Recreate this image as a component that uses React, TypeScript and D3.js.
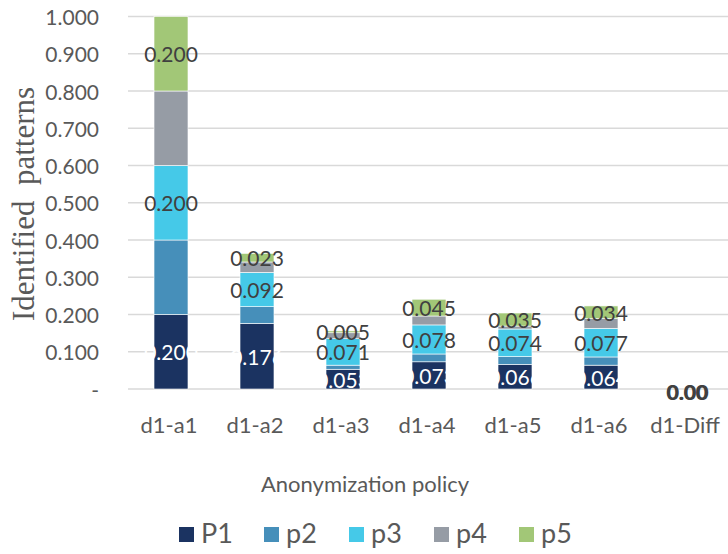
import React from "react";
import * as d3 from "d3";

const categories = ["d1-a1", "d1-a2", "d1-a3", "d1-a4", "d1-a5", "d1-a6", "d1-Diff"];
const seriesNames = ["P1", "p2", "p3", "p4", "p5"];
const p1 = [0.2, 0.176, 0.053, 0.073, 0.066, 0.064, 0];
const p2 = [0.2, 0.045, 0.011, 0.021, 0.021, 0.022, 0];
const p3 = [0.2, 0.092, 0.071, 0.078, 0.074, 0.077, 0];
const p4 = [0.2, 0.028, 0.016, 0.024, 0.008, 0.026, 0];
const p5 = [0.2, 0.023, 0.005, 0.045, 0.035, 0.034, 0];
const yTicks = [0, 0.1, 0.2, 0.3, 0.4, 0.5, 0.6, 0.7, 0.8, 0.9, 1.0];
const colors = ["#1b3361", "#468fba", "#45c9e8", "#969ca5", "#a2c777"];
const labeledSeries = [0, 2, 4];

const W = 728;
const H = 554;
const FONT = "Lato, 'Open Sans', sans-serif";

export default function App() {
  const series = [p1, p2, p3, p4, p5];
  const table = categories.map((c, i) => {
    const row: any = { cat: c };
    seriesNames.forEach((s, k) => (row[s] = series[k][i]));
    return row;
  });
  const stack = d3.stack<any>().keys(seriesNames)(table);

  const x = d3.scaleBand().domain(categories).range([128, 730]).paddingInner(0.605).paddingOuter(0.3025);
  const y = d3.scaleLinear().domain([0, 1]).range([389, 16.5]);
  const fmt = d3.format(".3f");

  return (
    <svg width={W} height={H} style={{ position: "absolute", left: 0, top: 0, background: "#fff" }}>
      {yTicks.map((t) => (
        <g key={t}>
          <line x1={128} x2={728} y1={y(t)} y2={y(t)} stroke="#d9d9d9" strokeWidth={1.5} />
          <text x={99} y={y(t)} textAnchor="end" dominantBaseline="central" fontFamily={FONT} fontSize={21} fill="#595959">
            {t === 0 ? "-" : fmt(t)}
          </text>
        </g>
      ))}
      {stack.map((layer, k) => (
        <g key={layer.key}>
          {layer.map((d, i) => {
            const h = y(d[0]) - y(d[1]);
            if (h <= 0) return null;
            return (
              <rect key={i} x={x(categories[i])!} y={y(d[1])} width={x.bandwidth()} height={h}
                fill={colors[k]} stroke="#ffffff" strokeWidth={0.6} />
            );
          })}
        </g>
      ))}
      {stack.map((layer, k) =>
        labeledSeries.includes(k)
          ? layer.map((d, i) => {
              const v = d[1] - d[0];
              if (v <= 0) return null;
              return (
                <text key={layer.key + i} x={x(categories[i])! + x.bandwidth() / 2} y={y((d[0] + d[1]) / 2)}
                  textAnchor="middle" dominantBaseline="central" fontFamily={FONT} fontSize={21}
                  fill={k === 0 ? "#ffffff" : "#404040"}>
                  {fmt(v)}
                </text>
              );
            })
          : null
      )}
      {categories.map((c, i) => {
        const total = series.reduce((s, arr) => s + arr[i], 0);
        if (total > 0) return null;
        const cx = x(c)! + x.bandwidth() / 2;
        return (
          <g key={"z" + c}>
            <text x={cx} y={y(0) + 2} textAnchor="middle" dominantBaseline="central" fontFamily={FONT} fontSize={21} fontWeight="bold" fill="#404040">0.00</text>
            <text x={cx + 0.8} y={y(0) + 2.5} textAnchor="middle" dominantBaseline="central" fontFamily={FONT} fontSize={21} fontWeight="bold" fill="#404040">0.00</text>
          </g>
        );
      })}
      {categories.map((c) => (
        <text key={c} x={x(c)! + x.bandwidth() / 2 - 2} y={433} textAnchor="middle" fontFamily={FONT} fontSize={22} fill="#595959">
          {c}
        </text>
      ))}
      <text x={365} y={492} textAnchor="middle" fontFamily={FONT} fontSize={22} fill="#595959">Anonymization policy</text>
      <text transform="translate(34,204) rotate(-90)" textAnchor="middle" fontFamily="'Liberation Serif', 'DejaVu Serif', serif" fontSize={31} fill="#595959" style={{ whiteSpace: "pre" }}>
        Identified  patterns
      </text>
      {seriesNames.map((s, k) => (
        <g key={s} transform={`translate(${179 + k * 85},0)`}>
          <rect x={0} y={527} width={15} height={15} fill={colors[k]} />
          <text x={22} y={543} fontFamily={FONT} fontSize={27} fill="#595959">{s}</text>
        </g>
      ))}
    </svg>
  );
}
